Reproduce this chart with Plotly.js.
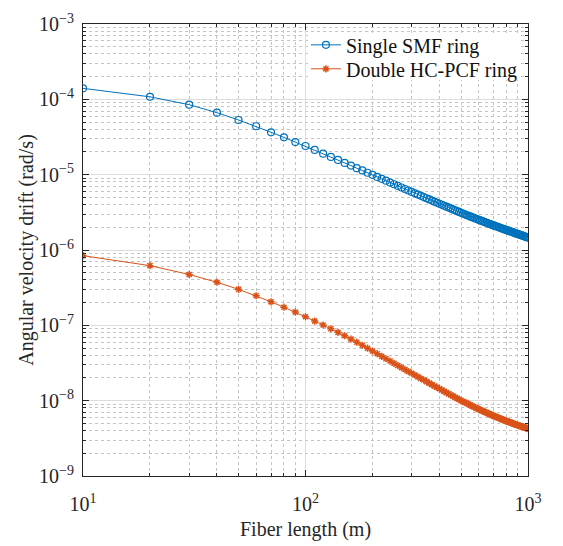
<!DOCTYPE html>
<html><head><meta charset="utf-8">
<script src="https://cdn.plot.ly/plotly-3.0.1.min.js"></script>
<style>html,body{margin:0;padding:0;background:#fff}#chart{width:563px;height:546px}</style>
</head><body><div id="chart"></div>
<script>
const fiberLength = [10,20,30,40,50,60,70,80,90,100,
  110,120,130,140,150,160,170,180,190,200,
  210,220,230,240,250,260,270,280,290,300,
  310,320,330,340,350,360,370,380,390,400,
  410,420,430,440,450,460,470,480,490,500,
  510,520,530,540,550,560,570,580,590,600,
  610,620,630,640,650,660,670,680,690,700,
  710,720,730,740,750,760,770,780,790,800,
  810,820,830,840,850,860,870,880,890,900,
  910,920,930,940,950,960,970,980,990,1000];

const smfDrift = [1.40e-4,1.08e-4,8.49e-5,6.65e-5,5.32e-5,4.39e-5,3.65e-5,3.13e-5,2.71e-5,2.40e-5,
  2.13e-5,1.90e-5,1.72e-5,1.57e-5,1.43e-5,1.32e-5,1.22e-5,1.14e-5,1.06e-5,9.95e-6,
  9.34e-6,8.80e-6,8.31e-6,7.86e-6,7.46e-6,7.09e-6,6.76e-6,6.45e-6,6.16e-6,5.90e-6,
  5.66e-6,5.44e-6,5.23e-6,5.04e-6,4.86e-6,4.69e-6,4.53e-6,4.38e-6,4.24e-6,4.11e-6,
  3.99e-6,3.87e-6,3.76e-6,3.66e-6,3.56e-6,3.46e-6,3.37e-6,3.28e-6,3.20e-6,3.12e-6,
  3.05e-6,2.98e-6,2.91e-6,2.85e-6,2.79e-6,2.73e-6,2.68e-6,2.62e-6,2.57e-6,2.52e-6,
  2.47e-6,2.43e-6,2.39e-6,2.34e-6,2.30e-6,2.26e-6,2.23e-6,2.19e-6,2.15e-6,2.12e-6,
  2.09e-6,2.06e-6,2.03e-6,2.00e-6,1.97e-6,1.94e-6,1.91e-6,1.89e-6,1.86e-6,1.84e-6,
  1.82e-6,1.79e-6,1.77e-6,1.75e-6,1.73e-6,1.71e-6,1.68e-6,1.66e-6,1.65e-6,1.63e-6,
  1.61e-6,1.59e-6,1.57e-6,1.56e-6,1.54e-6,1.52e-6,1.51e-6,1.49e-6,1.47e-6,1.46e-6];

const pcfDrift = [8.4e-7,6.2e-7,4.73e-7,3.73e-7,3.01e-7,2.47e-7,2.05e-7,1.74e-7,1.50e-7,1.30e-7,
  1.14e-7,1.01e-7,9.01e-8,8.07e-8,7.27e-8,6.57e-8,5.97e-8,5.44e-8,4.97e-8,4.56e-8,
  4.20e-8,3.88e-8,3.60e-8,3.36e-8,3.13e-8,2.93e-8,2.75e-8,2.59e-8,2.44e-8,2.31e-8,
  2.19e-8,2.07e-8,1.97e-8,1.88e-8,1.79e-8,1.71e-8,1.63e-8,1.56e-8,1.50e-8,1.44e-8,
  1.38e-8,1.33e-8,1.28e-8,1.23e-8,1.19e-8,1.15e-8,1.11e-8,1.07e-8,1.04e-8,1.00e-8,
  9.76e-9,9.49e-9,9.23e-9,8.98e-9,8.75e-9,8.52e-9,8.30e-9,8.10e-9,7.90e-9,7.71e-9,
  7.54e-9,7.38e-9,7.23e-9,7.08e-9,6.94e-9,6.80e-9,6.66e-9,6.53e-9,6.41e-9,6.29e-9,
  6.18e-9,6.08e-9,5.98e-9,5.88e-9,5.79e-9,5.70e-9,5.61e-9,5.52e-9,5.44e-9,5.36e-9,
  5.29e-9,5.22e-9,5.15e-9,5.08e-9,5.02e-9,4.96e-9,4.89e-9,4.83e-9,4.78e-9,4.72e-9,
  4.67e-9,4.62e-9,4.57e-9,4.52e-9,4.48e-9,4.43e-9,4.39e-9,4.34e-9,4.30e-9,4.26e-9];

const seriesNames = ['Single SMF ring', 'Double HC-PCF ring'];
const xTickVals = [10, 100, 1000];
const xTickText = ['10<sup>1</sup>', '10<sup>2</sup>', '10<sup>3</sup>'];
const yTickVals = [1e-9, 1e-8, 1e-7, 1e-6, 1e-5, 1e-4, 1e-3];
const yTickText = ['10<sup>\u22129</sup>','10<sup>\u22128</sup>','10<sup>\u22127</sup>','10<sup>\u22126</sup>','10<sup>\u22125</sup>','10<sup>\u22124</sup>','10<sup>\u22123</sup>'];

function minorTicks(vals) {
  const out = [];
  for (let i = 0; i < vals.length - 1; i++) for (let k = 2; k <= 9; k++) out.push(vals[i] * k);
  return out;
}

const FONT = 'Liberation Serif, Times New Roman, serif';
const AX = '#262626';

const axisCommon = {
  type: 'log',
  showline: true, linecolor: AX, linewidth: 1, mirror: 'ticks',
  ticks: 'inside', ticklen: 6, tickcolor: AX, tickwidth: 1,
  showgrid: true, gridcolor: '#dcdcdc', gridwidth: 1,
  zeroline: false,
  tickfont: {family: FONT, size: 20, color: AX},
  tickmode: 'array'
};

const traces = [
  {x: fiberLength, y: smfDrift, name: seriesNames[0], type: 'scatter', mode: 'lines+markers',
   legend: 'legend',
   line: {color: '#0072BD', width: 1},
   marker: {symbol: 'circle-open', size: 7, color: '#0072BD', line: {width: 1.2, color: '#0072BD'}}},
  {x: fiberLength, y: pcfDrift, name: seriesNames[1], type: 'scatter', mode: 'lines+markers',
   legend: 'legend2',
   line: {color: '#D95319', width: 1},
   marker: {symbol: 'asterisk-open', size: 6, color: '#D95319', line: {width: 1.5, color: '#D95319'}}}
];

const legendCommon = {x: 0.501, xanchor: 'left', yanchor: 'top', bgcolor: 'rgba(0,0,0,0)', borderwidth: 0,
  font: {family: FONT, size: 20, color: '#111'}};

const layout = {
  width: 563, height: 546,
  margin: {l: 83, r: 35, t: 24, b: 70},
  paper_bgcolor: '#fff', plot_bgcolor: '#fff',
  font: {family: FONT, size: 20, color: AX},
  showlegend: true,
  legend: Object.assign({}, legendCommon, {y: 0.997}),
  legend2: Object.assign({}, legendCommon, {y: 0.944}),
  shapes: [{type: 'rect', xref: 'paper', yref: 'paper', x0: 0.510, x1: 0.980, y0: 0.876, y1: 0.980,
            fillcolor: '#fff', line: {width: 0}, layer: 'above'}],
  xaxis: Object.assign({}, axisCommon, {
    range: [1, 3], tickvals: xTickVals, ticktext: xTickText, ticklabelstandoff: 10,
    minor: {tickvals: minorTicks(xTickVals), ticks: 'inside', ticklen: 3, tickcolor: AX,
            showgrid: true, gridcolor: '#c4c4c4', griddash: 'dot', gridwidth: 1},
    title: {text: 'Fiber length (m)', font: {family: FONT, size: 20, color: AX}, standoff: 7}
  }),
  yaxis: Object.assign({}, axisCommon, {
    range: [-9, -3], tickvals: yTickVals, ticktext: yTickText, ticklabelstandoff: 4,
    minor: {tickvals: minorTicks(yTickVals), ticks: 'inside', ticklen: 3, tickcolor: AX,
            showgrid: true, gridcolor: '#c4c4c4', griddash: 'dot', gridwidth: 1},
    title: {text: 'Angular velocity drift (rad/s)', font: {family: FONT, size: 20, color: AX}, standoff: 0}
  })
};

Plotly.newPlot('chart', traces, layout, {displayModeBar: false, staticPlot: true});
</script>
</body></html>
